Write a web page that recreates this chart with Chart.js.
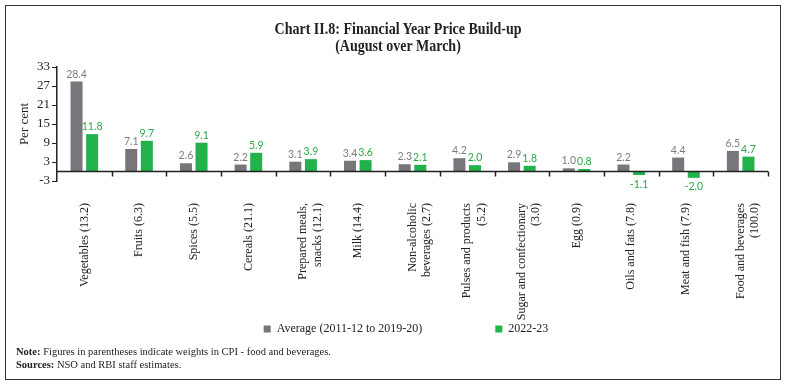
<!DOCTYPE html>
<html>
<head>
<meta charset="utf-8">
<script src="https://cdn.jsdelivr.net/npm/chart.js@4.4.1/dist/chart.umd.min.js"></script>
<style>
  html, body { margin: 0; padding: 0; background: #fff; }
  #wrap { position: relative; width: 786px; height: 385px; overflow: hidden; }
  #frame { position: absolute; left: 5px; top: 5px; width: 774px; height: 373px; border: 1.5px solid #333; box-sizing: content-box; pointer-events: none; }
  #c { position: absolute; left: 0; top: 0; }
  .title { position: absolute; left: 0; width: 796px; text-align: center; font-family: "Liberation Serif", serif; font-weight: bold; font-size: 16.5px; color: #222; white-space: nowrap; transform: scaleX(0.85); transform-origin: 398px 0; }
  .note { position: absolute; left: 16px; font-family: "Liberation Serif", serif; font-size: 10.5px; color: #222; white-space: nowrap; }
</style>
</head>
<body>
<div id="wrap">
  <canvas id="c" width="786" height="385"></canvas>
  <div class="title" style="top:19px">Chart II.8: Financial Year Price Build-up</div>
  <div class="title" style="top:36px">(August over March)</div>
  <div class="note" style="top:346px"><b>Note:</b> Figures in parentheses indicate weights in CPI - food and beverages.</div>
  <div class="note" style="top:359px"><b>Sources:</b> NSO and RBI staff estimates.</div>
  <div id="frame"></div>
</div>
<script>
const categories = [
  "Vegetables (13.2)",
  "Fruits (6.3)",
  "Spices (5.5)",
  "Cereals (21.1)",
  ["Prepared meals,", "snacks (12.1)"],
  "Milk (14.4)",
  ["Non-alcoholic", "beverages (2.7)"],
  ["Pulses and products", "(5.2)"],
  ["Sugar and confectionary", "(3.0)"],
  "Egg (0.9)",
  "Oils and fats (7.8)",
  "Meat and fish (7.9)",
  ["Food and beverages", "(100.0)"]
];
const seriesNames = ["Average (2011-12 to 2019-20)", "2022-23"];
const averageValues = [28.4, 7.1, 2.6, 2.2, 3.1, 3.4, 2.3, 4.2, 2.9, 1.0, 2.2, 4.4, 6.5];
const currentValues = [11.8, 9.7, 9.1, 5.9, 3.9, 3.6, 2.1, 2.0, 1.8, 0.8, -1.1, -2.0, 4.7];
const yTicks = [-3, 3, 9, 15, 21, 27, 33];

const GREY = "#77777b";
const GREEN = "#22b24c";
const labelColors = ["#7d7d80", "#2aa84a"];

const zeroLinePlugin = {
  id: "zeroLine",
  afterDatasetsDraw(chart) {
    const {ctx, chartArea, scales: {x, y}} = chart;
    const y0 = y.getPixelForValue(0);
    ctx.save();
    ctx.strokeStyle = "#222";
    ctx.lineWidth = 1.5;
    ctx.beginPath();
    ctx.moveTo(chartArea.left, y0);
    ctx.lineTo(chartArea.right, y0);
    for (let i = 1; i <= categories.length; i++) {
      const bx = Math.round(x.getPixelForValue(i - 0.5)) + 0.5;
      ctx.moveTo(bx, y0);
      ctx.lineTo(bx, y0 + 5);
    }
    ctx.stroke();
    ctx.restore();
  }
};

const valueLabelPlugin = {
  id: "valueLabels",
  afterDatasetsDraw(chart) {
    const {ctx} = chart;
    ctx.save();
    ctx.font = "10.5px Lato, 'Open Sans', sans-serif";
    ctx.textAlign = "center";
    chart.data.datasets.forEach((ds, di) => {
      const meta = chart.getDatasetMeta(di);
      ctx.fillStyle = labelColors[di];
      meta.data.forEach((bar, i) => {
        const v = ds.data[i];
        const txt = v.toFixed(1);
        if (v >= 0) {
          ctx.textBaseline = "bottom";
          ctx.fillText(txt, bar.x, bar.y - 2);
        } else {
          ctx.textBaseline = "top";
          ctx.fillText(txt, bar.x, bar.y + 4);
        }
      });
    });
    ctx.restore();
  }
};

// let the rotated category labels run below the (compact) x-axis box, and centre the legend like the original
const layoutPlugin = {
  id: "layoutTweak",
  afterLayout(chart) {
    chart.scales.x.bottom = chart.height;
    const lg = chart.legend;
    lg.left += 18;
    lg.right += 18;
  }
};

new Chart(document.getElementById("c"), {
  type: "bar",
  data: {
    labels: categories,
    datasets: [
      { label: seriesNames[0], data: averageValues, backgroundColor: GREY },
      { label: seriesNames[1], data: currentValues, backgroundColor: GREEN }
    ]
  },
  plugins: [zeroLinePlugin, valueLabelPlugin, layoutPlugin],
  options: {
    responsive: false,
    animation: false,
    devicePixelRatio: 1,
    layout: { padding: { left: 8, right: 18, top: 67, bottom: 40 } },
    datasets: { bar: { categoryPercentage: 0.57, barPercentage: 0.77 } },
    scales: {
      x: {
        offset: true,
        grid: { display: false },
        border: { display: false },
        ticks: {
          minRotation: 90, maxRotation: 90, autoSkip: false, padding: 14,
          color: "#222", font: { family: "'Liberation Serif', serif", size: 12 }
        },
        afterFit(scale) { scale.height = 69; }
      },
      y: {
        min: -3, max: 33,
        afterBuildTicks(scale) { scale.ticks = yTicks.map(v => ({ value: v })); },
        grid: { drawOnChartArea: false, drawTicks: true, tickLength: 5, color: "#222", lineWidth: 1 },
        border: { display: true, color: "#222", width: 1.5 },
        ticks: { padding: 2, color: "#222", font: { family: "'Liberation Serif', serif", size: 13 } },
        title: { display: true, text: "Per cent", color: "#222", font: { family: "'Liberation Serif', serif", size: 13 }, padding: { top: 9, bottom: 0 } },
        afterFit(scale) { scale.width = 49; }
      }
    },
    plugins: {
      legend: {
        position: "bottom",
        labels: {
          boxWidth: 7, boxHeight: 7, padding: 73, color: "#222",
          font: { family: "'Liberation Serif', serif", size: 12 }
        }
      },
      tooltip: { enabled: false },
      title: { display: false }
    }
  }
});
</script>
</body>
</html>
